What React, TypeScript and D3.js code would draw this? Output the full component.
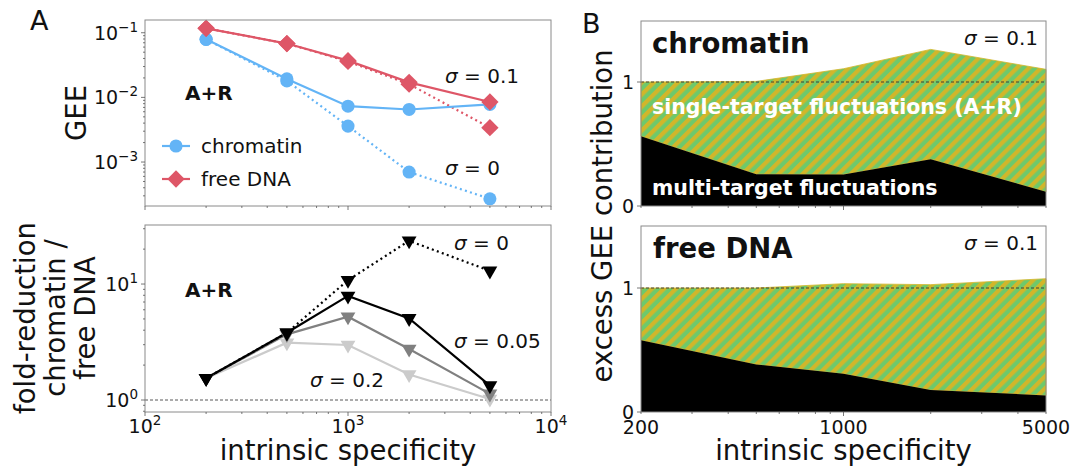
import { useEffect, useRef } from "react";
import * as d3 from "d3";

// intrinsic specificity (x for every panel)
const specificity = [200, 500, 1000, 2000, 5000];

// panel A top: GEE
const geeChromatinSig01 = [0.079, 0.0193, 0.0073, 0.0065, 0.0078];
const geeChromatinSig0 = [0.079, 0.018, 0.0036, 0.0007, 0.00027];
const geeFreeSig01 = [0.117, 0.068, 0.037, 0.0171, 0.0085];
const geeFreeSig0 = [0.117, 0.068, 0.036, 0.016, 0.0034];

// panel A bottom: fold reduction chromatin / free DNA
const foldSig0 = [1.54, 3.8, 10.8, 23.6, 13.0];
const foldSig005 = [1.54, 3.8, 7.9, 5.06, 1.33];
const foldSig01 = [1.54, 3.68, 5.23, 2.75, 1.13];
const foldSig02 = [1.54, 3.12, 2.98, 1.66, 1.02];

// panel B: excess GEE contribution (total and multi-target part)
const chromatinTotal = [1.0, 1.005, 1.107, 1.263, 1.102];
const chromatinMulti = [0.563, 0.257, 0.255, 0.378, 0.115];
const freeTotal = [1.0, 1.0, 1.035, 1.027, 1.075];
const freeMulti = [0.579, 0.383, 0.308, 0.177, 0.134];

// tick labels
const logXTicks = [100, 1000, 10000];
const linXTicks = [200, 1000, 5000];
const geeTicks = [1e-1, 1e-2, 1e-3];
const foldTicks = [1, 10];
const contribTicks = [0, 1];

const FONT = "DejaVu Sans, sans-serif";
const BLUE = "#63b4f6";
const RED = "#de5667";
const GREEN = "#6dc96c";
const GOLD = "#d1b62a";
const SPINE = "#8a8a8a";

const App = () => {
  const svgRef = useRef(null);

  useEffect(() => {
    const svg = d3.select(svgRef.current);
    svg.selectAll("*").remove();

    const xLog = d3.scaleLog().domain([100, 10000]).range([145, 551]);
    const yGee = d3.scaleLog().domain([Math.pow(10, -3.68), Math.pow(10, -0.803)]).range([206, 20]);
    const yFold = d3.scaleLog().domain([0.788, 32.3]).range([412, 225]);
    const xB = d3.scaleLog().domain([200, 5000]).range([641, 1046]);
    const yTopB = d3.scaleLinear().domain([0, 1.5]).range([206, 20]);
    const yBotB = d3.scaleLinear().domain([0, 1.5]).range([412, 226]);

    const defs = svg.append("defs");
    const pat = defs.append("pattern")
      .attr("id", "hatch")
      .attr("patternUnits", "userSpaceOnUse")
      .attr("width", 8.5)
      .attr("height", 8.5)
      .attr("patternTransform", "rotate(45)");
    pat.append("rect").attr("width", 8.5).attr("height", 8.5).attr("fill", GREEN);
    pat.append("rect").attr("width", 4.25).attr("height", 8.5).attr("fill", GOLD);

    const supLabel = (g, v, x, y, anchor) => {
      const e = Math.round(Math.log10(v));
      const t = g.append("text")
        .attr("x", x).attr("y", y)
        .attr("text-anchor", anchor)
        .attr("font-family", FONT)
        .attr("font-size", 19)
        .attr("fill", "#111");
      t.append("tspan").text("10");
      t.append("tspan").attr("dy", -8).attr("font-size", 13.5).text(String(e).replace("-", "\u2212"));
    };

    const box = (x0, x1, y0, y1) => {
      svg.append("rect")
        .attr("x", x0).attr("y", y0)
        .attr("width", x1 - x0).attr("height", y1 - y0)
        .attr("fill", "none")
        .attr("stroke", SPINE)
        .attr("stroke-width", 1);
    };

    const logTicks = (scale, orient, pos) => {
      const ticks = scale.ticks();
      const g = svg.append("g");
      ticks.forEach(t => {
        const major = Math.abs(Math.log10(t) - Math.round(Math.log10(t))) < 1e-9;
        const len = major ? 4 : 2;
        const p = scale(t);
        if (orient === "left") {
          g.append("line").attr("x1", pos - len).attr("x2", pos).attr("y1", p).attr("y2", p);
        } else {
          g.append("line").attr("x1", p).attr("x2", p).attr("y1", pos).attr("y2", pos + len);
        }
      });
      g.selectAll("line").attr("stroke", "#555").attr("stroke-width", 0.8);
    };

    const text = (str, x, y, size, opts = {}) => {
      return svg.append("text")
        .attr("x", x).attr("y", y)
        .attr("font-family", FONT)
        .attr("font-size", size)
        .attr("font-weight", opts.bold ? "bold" : "normal")
        .attr("text-anchor", opts.anchor || "start")
        .attr("fill", opts.fill || "#111")
        .text(str);
    };

    const sigma = (val, x, y, anchor = "start") => {
      const t = svg.append("text")
        .attr("x", x).attr("y", y)
        .attr("font-family", FONT)
        .attr("font-size", 20)
        .attr("text-anchor", anchor)
        .attr("fill", "#111");
      t.append("tspan").attr("font-style", "italic").text("\u03c3");
      t.append("tspan").text(" = " + val);
    };

    // ---------- panel A top ----------
    const gee = svg.append("g");
    const geeLine = (vals) => d3.line()
      .x((d, i) => xLog(specificity[i]))
      .y(d => yGee(d))(vals);

    gee.append("path").attr("d", geeLine(geeChromatinSig0))
      .attr("fill", "none").attr("stroke", BLUE).attr("stroke-width", 2.2).attr("stroke-dasharray", "2,3.3");
    gee.append("path").attr("d", geeLine(geeFreeSig0))
      .attr("fill", "none").attr("stroke", RED).attr("stroke-width", 2.2).attr("stroke-dasharray", "2,3.3");
    gee.append("path").attr("d", geeLine(geeChromatinSig01))
      .attr("fill", "none").attr("stroke", BLUE).attr("stroke-width", 2.2);
    gee.append("path").attr("d", geeLine(geeFreeSig01))
      .attr("fill", "none").attr("stroke", RED).attr("stroke-width", 2.2);

    const circle = d3.symbol().type(d3.symbolCircle).size(135)();
    const diamond = d3.symbol().type(d3.symbolSquare).size(150)();
    const tri = d3.symbol().type(d3.symbolTriangle).size(95)();

    [geeChromatinSig0, geeChromatinSig01].forEach(vals => {
      gee.selectAll(null).data(vals).enter().append("path")
        .attr("d", circle)
        .attr("transform", (d, i) => `translate(${xLog(specificity[i])},${yGee(d)})`)
        .attr("fill", BLUE);
    });
    [geeFreeSig0, geeFreeSig01].forEach(vals => {
      gee.selectAll(null).data(vals).enter().append("path")
        .attr("d", diamond)
        .attr("transform", (d, i) => `translate(${xLog(specificity[i])},${yGee(d)}) rotate(45)`)
        .attr("fill", RED);
    });

    box(145, 551, 20, 206);
    logTicks(yGee, "left", 145);
    logTicks(xLog, "bottom", 206);
    geeTicks.forEach(v => supLabel(svg, v, 138, yGee(v) + 7, "end"));

    // legend
    svg.append("line").attr("x1", 162).attr("x2", 190).attr("y1", 146).attr("y2", 146)
      .attr("stroke", BLUE).attr("stroke-width", 2.2);
    svg.append("path").attr("d", circle).attr("transform", "translate(176,146)").attr("fill", BLUE);
    text("chromatin", 201, 153, 20);
    svg.append("line").attr("x1", 162).attr("x2", 190).attr("y1", 179).attr("y2", 179)
      .attr("stroke", RED).attr("stroke-width", 2.2);
    svg.append("path").attr("d", diamond).attr("transform", "translate(176,179) rotate(45)").attr("fill", RED);
    text("free DNA", 201, 186, 20);

    text("A+R", 185, 100, 20, { bold: true });
    sigma("0.1", 445, 83);
    sigma("0", 445, 175);

    // ---------- panel A bottom ----------
    const fold = svg.append("g");
    fold.append("line")
      .attr("x1", 145).attr("x2", 551)
      .attr("y1", yFold(1)).attr("y2", yFold(1))
      .attr("stroke", "#444").attr("stroke-width", 0.9).attr("stroke-dasharray", "3,2");

    const foldLine = (vals) => d3.line()
      .x((d, i) => xLog(specificity[i]))
      .y(d => yFold(d))(vals);

    const foldSeries = [
      { vals: foldSig02, color: "#cbcbcb", dash: null },
      { vals: foldSig01, color: "#808080", dash: null },
      { vals: foldSig005, color: "#000", dash: null },
      { vals: foldSig0, color: "#000", dash: "2,3.3" },
    ];
    foldSeries.forEach(s => {
      fold.append("path").attr("d", foldLine(s.vals))
        .attr("fill", "none").attr("stroke", s.color).attr("stroke-width", 2.2)
        .attr("stroke-dasharray", s.dash);
    });
    foldSeries.forEach(s => {
      fold.selectAll(null).data(s.vals).enter().append("path")
        .attr("d", tri)
        .attr("transform", (d, i) => `translate(${xLog(specificity[i])},${yFold(d)}) rotate(180)`)
        .attr("fill", s.color);
    });

    box(145, 551, 225, 412);
    logTicks(yFold, "left", 145);
    logTicks(xLog, "bottom", 412);
    foldTicks.forEach(v => supLabel(svg, v, 138, yFold(v) + 7, "end"));
    logXTicks.forEach(v => supLabel(svg, v, xLog(v), 433, "middle"));

    text("A+R", 185, 297, 20, { bold: true });
    sigma("0", 454, 250);
    sigma("0.05", 454, 348);
    sigma("0.2", 310, 387);

    // ---------- panel B ----------
    const drawB = (total, multi, yScale, top, bottom) => {
      const g = svg.append("g");
      const multiArea = d3.area()
        .x((d, i) => xB(specificity[i]))
        .y0(yScale(0))
        .y1(d => yScale(d));
      const singleArea = d3.area()
        .x((d, i) => xB(specificity[i]))
        .y0((d, i) => yScale(multi[i]))
        .y1(d => yScale(d));
      g.append("path").attr("d", singleArea(total))
        .attr("fill", "url(#hatch)").attr("stroke", GOLD).attr("stroke-width", 0.8);
      g.append("path").attr("d", multiArea(multi)).attr("fill", "#000");
      g.append("line")
        .attr("x1", 641).attr("x2", 1046)
        .attr("y1", yScale(1)).attr("y2", yScale(1))
        .attr("stroke", "#333").attr("stroke-width", 0.9).attr("stroke-dasharray", "3,2");
      box(641, 1046, top, bottom);
      logTicks(xB, "bottom", bottom);
      contribTicks.forEach(v => {
        svg.append("line").attr("x1", 637).attr("x2", 641)
          .attr("y1", yScale(v)).attr("y2", yScale(v))
          .attr("stroke", "#555").attr("stroke-width", 0.8);
        text(String(v), 634, yScale(v) + 7, 19, { anchor: "end" });
      });
    };

    drawB(chromatinTotal, chromatinMulti, yTopB, 21, 206);
    drawB(freeTotal, freeMulti, yBotB, 226, 412);
    linXTicks.forEach(v => text(String(v), xB(v), 434, 19, { anchor: "middle" }));

    text("chromatin", 652, 53, 27.5, { bold: true });
    sigma("0.1", 1038, 45, "end");
    text("single-target fluctuations (A+R)", 652, 114, 20.5, { bold: true, fill: "#fff" });
    text("multi-target fluctuations", 652, 195, 20.5, { bold: true, fill: "#fff" });
    text("free DNA", 653, 258, 27.5, { bold: true });
    sigma("0.1", 1038, 250, "end");

    // ---------- axis labels ----------
    text("A", 30, 30, 27);
    text("B", 582, 33, 27);
    text("intrinsic specificity", 348, 460, 27.5, { anchor: "middle" });
    text("intrinsic specificity", 843.5, 460, 27.5, { anchor: "middle" });
    text("GEE", 0, 0, 27.5, { anchor: "middle" }).attr("transform", "translate(86,113) rotate(-90)");
    ["fold-reduction", "chromatin /", "free DNA"].forEach((s, i) => {
      text(s, 0, 0, 27.5, { anchor: "middle" }).attr("transform", `translate(${35 + i * 30},318) rotate(-90)`);
    });
    text("excess GEE contribution", 0, 0, 27.5, { anchor: "middle" }).attr("transform", "translate(612,216) rotate(-90)");
  }, []);

  return (
    <svg ref={svgRef} width={1074} height={472}
      style={{ position: "absolute", left: 0, top: 0, background: "#fff" }} />
  );
};

export default App;
